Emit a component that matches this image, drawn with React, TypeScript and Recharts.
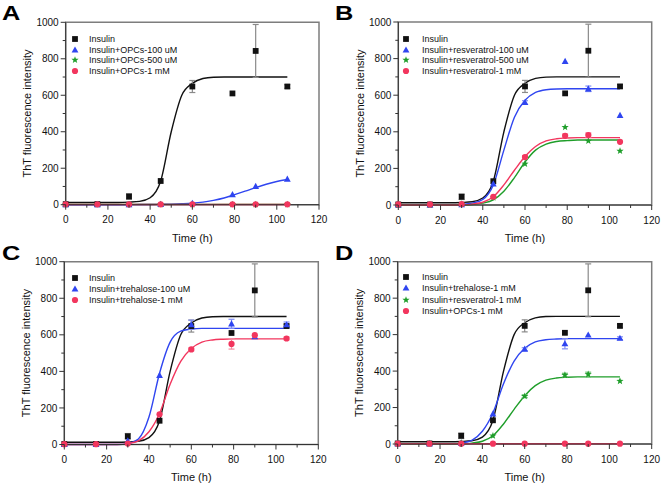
import React from 'react';
import { ComposedChart, Line, Scatter, XAxis, YAxis, ErrorBar, ReferenceArea } from 'recharts';

// sampling times (h) of the measured points
const times = [0, 15, 30, 45, 60, 79, 90, 105];
const fitTimes = [0, 5, 10, 15, 20, 25, 30, 35, 40, 45, 50, 55, 60, 65, 70, 75, 80, 85, 90, 95, 100, 105];

const xTicks = [0, 10, 20, 30, 40, 50, 60, 70, 80, 90, 100, 110, 120];
const yTicks = [0, 100, 200, 300, 400, 500, 600, 700, 800, 900, 1000];

// measured ThT intensity
const insulin = [3, 3, 45, 130, 648, 610, 843, 648];
const insulinErr = [0, 0, 15, 0, 33, 0, 145, 10];
const opc100 = [0, 0, 0, 2, 8, 55, 100, 140];
const opc500 = [1, 1, 1, 1, 1, 1, 1, 1];
const opc1m = [2, 2, 2, 2, 2, 2, 2, 2];
const res100 = [0, 0, 2, 115, 560, 785, 635, 490];
const res100Err = [0, 0, 0, 0, 10, 0, 15, 0];
const res500 = [0, 0, 5, 40, 225, 425, 350, 295];
const res1m = [3, 3, 5, 45, 262, 378, 382, 345];
const res1mErr = [0, 0, 0, 0, 8, 10, 12, 0];
const tre100 = [0, 0, 20, 378, 655, 660, 590, 655];
const tre100Err = [0, 0, 0, 0, 25, 25, 0, 15];
const tre1m = [2, 2, 5, 165, 520, 550, 598, 580];
const tre1mErr = [0, 0, 0, 0, 8, 28, 0, 8];
const noErr = [0, 0, 0, 0, 0, 0, 0, 0];

// fitted sigmoid curves, read at fitTimes
const insulinFit = [12, 12, 12, 12, 12, 12, 14, 18, 38, 130, 400, 600, 665, 692, 699, 700, 700, 700, 700, 700, 700, 700];
const opc100Fit = [0, 0, 0, 0, 0, 0, 0, 1, 1, 2, 3, 5, 8, 14, 24, 37, 55, 74, 94, 112, 127, 138];
const opc500Fit = [2, 2, 2, 2, 2, 2, 2, 2, 2, 2, 2, 2, 2, 2, 2, 2, 2, 2, 2, 2, 2, 2];
const opc1mFit = [1, 1, 1, 1, 1, 1, 1, 1, 1, 1, 1, 1, 1, 1, 1, 1, 1, 1, 1, 1, 1, 1];
const res100Fit = [0, 0, 0, 0, 0, 0, 3, 10, 30, 110, 300, 480, 572, 615, 630, 634, 635, 635, 635, 635, 635, 635];
const res500Fit = [0, 0, 0, 0, 0, 0, 0, 3, 10, 28, 75, 150, 235, 300, 333, 347, 352, 355, 355, 355, 355, 355];
const res1mFit = [0, 0, 0, 0, 0, 0, 0, 5, 15, 45, 110, 190, 265, 320, 350, 362, 366, 368, 368, 368, 368, 368];
const tre100Fit = [0, 0, 0, 0, 0, 0, 5, 30, 150, 390, 560, 620, 632, 635, 635, 635, 635, 635, 635, 635, 635, 635];
const tre1mFit = [0, 0, 0, 0, 0, 0, 5, 20, 70, 170, 330, 455, 525, 560, 572, 576, 578, 578, 578, 578, 578, 578];

const BLACK = '#111111';
const BLUE = '#2f45f0';
const GREEN = '#1f9e2a';
const RED = '#f2365e';
const FONT = '"Liberation Sans", Arial, sans-serif';

type Shape = 'square' | 'triangle' | 'star' | 'circle';

function Marker({ kind, cx, cy, color }: { kind: Shape; cx: number; cy: number; color: string }) {
  if (kind === 'square') return <rect x={cx - 2.9} y={cy - 2.9} width={5.8} height={5.8} fill={color} />;
  if (kind === 'circle') return <circle cx={cx} cy={cy} r={3.1} fill={color} />;
  if (kind === 'triangle') {
    return <polygon points={`${cx},${cy - 3.6} ${cx - 3.4},${cy + 2.6} ${cx + 3.4},${cy + 2.6}`} fill={color} />;
  }
  const pts: string[] = [];
  for (let i = 0; i < 10; i++) {
    const r = i % 2 === 0 ? 3.8 : 1.6;
    const a = -Math.PI / 2 + (i * Math.PI) / 5;
    pts.push(`${cx + r * Math.cos(a)},${cy + r * Math.sin(a)}`);
  }
  return <polygon points={pts.join(' ')} fill={color} />;
}

interface Series {
  name: string;
  color: string;
  errColor: string;
  shape: Shape;
  pts: number[];
  err: number[];
  fit: number[];
}

const mk = (name: string, color: string, errColor: string, shape: Shape, pts: number[], err: number[], fit: number[]): Series =>
  ({ name, color, errColor, shape, pts, err, fit });

const insulinS = mk('Insulin', BLACK, '#8a8a8a', 'square', insulin, insulinErr, insulinFit);

const panels = [
  {
    letter: 'A', left: 0, top: 0, width: 330,
    margin: { top: 22.3, right: 11, bottom: 15.3, left: 25.7 },
    legend: { mx: 75, tx: 89, y0: 39, dy: 10.7 },
    series: [
      insulinS,
      mk('Insulin+OPCs-100 uM', BLUE, '#7f8cf5', 'triangle', opc100, noErr, opc100Fit),
      mk('Insulin+OPCs-500 uM', GREEN, '#6cbf72', 'star', opc500, noErr, opc500Fit),
      mk('Insulin+OPCs-1 mM', RED, '#f58ca2', 'circle', opc1m, noErr, opc1mFit),
    ],
  },
  {
    letter: 'B', left: 330, top: 0, width: 331,
    margin: { top: 22, right: 9.3, bottom: 15, left: 28.3 },
    legend: { mx: 76, tx: 92, y0: 39, dy: 10.7 },
    series: [
      insulinS,
      mk('Insulin+resveratrol-100 uM', BLUE, '#7f8cf5', 'triangle', res100, res100Err, res100Fit),
      mk('Insulin+resveratrol-500 uM', GREEN, '#6cbf72', 'star', res500, noErr, res500Fit),
      mk('Insulin+resveratrol-1 mM', RED, '#f58ca2', 'circle', res1m, res1mErr, res1mFit),
    ],
  },
  {
    letter: 'C', left: 0, top: 240, width: 330,
    margin: { top: 21.7, right: 11.7, bottom: 15.5, left: 24.3 },
    legend: { mx: 75, tx: 89, y0: 37.7, dy: 11.2 },
    series: [
      insulinS,
      mk('Insulin+trehalose-100 uM', BLUE, '#7f8cf5', 'triangle', tre100, tre100Err, tre100Fit),
      mk('Insulin+trehalose-1 mM', RED, '#f58ca2', 'circle', tre1m, tre1mErr, tre1mFit),
    ],
  },
  {
    letter: 'D', left: 330, top: 240, width: 331,
    margin: { top: 21.7, right: 9.3, bottom: 16, left: 27.7 },
    legend: { mx: 76, tx: 92, y0: 37.3, dy: 11.1 },
    series: [
      insulinS,
      mk('Insulin+trehalose-1 mM', BLUE, '#7f8cf5', 'triangle', tre1m, tre1mErr, tre1mFit),
      mk('Insulin+resveratrol-1 mM', GREEN, '#6cbf72', 'star', res1m, res1mErr, res1mFit),
      mk('Insulin+OPCs-1 mM', RED, '#f58ca2', 'circle', opc1m, noErr, opc1mFit),
    ],
  },
];

const XTick = (p: any) => {
  const v = p.payload.value;
  const major = v % 20 === 0;
  return (
    <g>
      <line x1={p.x} x2={p.x} y1={p.y} y2={p.y + (major ? 5 : 3)} stroke="#333" />
      {major && (
        <text x={p.x} y={p.y + 18.6} textAnchor="middle" fontSize={10} fontFamily={FONT} fill="#111">{v}</text>
      )}
    </g>
  );
};

const YTick = (p: any) => {
  const v = p.payload.value;
  const major = v % 200 === 0;
  return (
    <g>
      <line x1={p.x} x2={p.x - (major ? 5 : 3)} y1={p.y} y2={p.y} stroke="#333" />
      {major && (
        <text x={p.x - 7} y={p.y + 3.6} textAnchor="end" fontSize={10} fontFamily={FONT} fill="#111">{v}</text>
      )}
    </g>
  );
};

function Panel({ panel }: { panel: typeof panels[number] }) {
  const fitData = fitTimes.map((t, i) => {
    const row: any = { t };
    panel.series.forEach((s, k) => { row[`f${k}`] = s.fit[i]; });
    return row;
  });
  const { legend } = panel;
  return (
    <div style={{ position: 'absolute', left: panel.left, top: panel.top, width: panel.width, height: 250 }}>
      <ComposedChart width={panel.width} height={250} data={fitData} margin={panel.margin}>
        <ReferenceArea x1={0} x2={120} y1={0} y2={1000} fill="none" stroke="#7d7d7d" strokeWidth={1.5} />
        <XAxis
          type="number" dataKey="t" domain={[0, 120]} ticks={xTicks} interval={0}
          height={30} tickSize={0} tickMargin={0} tickLine={false} tick={XTick}
          stroke="#333"
          label={{ value: 'Time (h)', position: 'bottom', offset: -1, style: { fontSize: 11, fontFamily: FONT, fill: '#111' } }}
        />
        <YAxis
          type="number" dataKey="v" domain={[0, 1000]} ticks={yTicks} interval={0}
          width={40} tickSize={0} tickMargin={0} tickLine={false} tick={YTick}
          stroke="#333"
          label={{ value: 'ThT fluorescence intensity', angle: -90, position: 'insideLeft', offset: 1.5,
            style: { textAnchor: 'middle', fontSize: 11, fontFamily: FONT, fill: '#111' } }}
        />
        {panel.series.map((s, k) => (
          <Line key={`l${k}`} dataKey={`f${k}`} type="monotone" stroke={s.color} strokeWidth={1.4}
            dot={false} activeDot={false} isAnimationActive={false} />
        ))}
        {panel.series.map((s, k) => (
          <Scatter key={`s${k}`} data={times.map((t, i) => ({ t, v: s.pts[i], e: s.err[i] }))} dataKey="v"
            isAnimationActive={false}
            shape={(p: any) => <Marker kind={s.shape} cx={p.cx} cy={p.cy} color={s.color} />}>
            <ErrorBar dataKey="e" direction="y" width={3} stroke={s.errColor} strokeWidth={1.2} />
          </Scatter>
        ))}
      </ComposedChart>
      <div style={{ position: 'absolute', left: panel.letter === 'C' || panel.letter === 'A' ? 2 : 5, top: 3.5,
        fontFamily: FONT, fontWeight: 'bold', fontSize: 19.5, lineHeight: 1, color: '#000',
        transform: 'scaleX(1.3)', transformOrigin: 'left top' }}>
        {panel.letter}
      </div>
      {panel.series.map((s, i) => {
        const y = legend.y0 + i * legend.dy;
        return (
          <React.Fragment key={`g${i}`}>
            <svg width={12} height={12} style={{ position: 'absolute', left: legend.mx - 6, top: y - 6 }}>
              <Marker kind={s.shape} cx={6} cy={6} color={s.color} />
            </svg>
            <div style={{ position: 'absolute', left: legend.tx, top: y - 6, height: 12, lineHeight: '12px',
              fontFamily: FONT, fontSize: 9, color: '#111', whiteSpace: 'nowrap' }}>
              {s.name}
            </div>
          </React.Fragment>
        );
      })}
    </div>
  );
}

export default function App() {
  return (
    <div style={{ position: 'absolute', left: 0, top: 0, width: 661, height: 485, background: '#fff', overflow: 'hidden' }}>
      {panels.map((p) => <Panel key={p.letter} panel={p} />)}
    </div>
  );
}
